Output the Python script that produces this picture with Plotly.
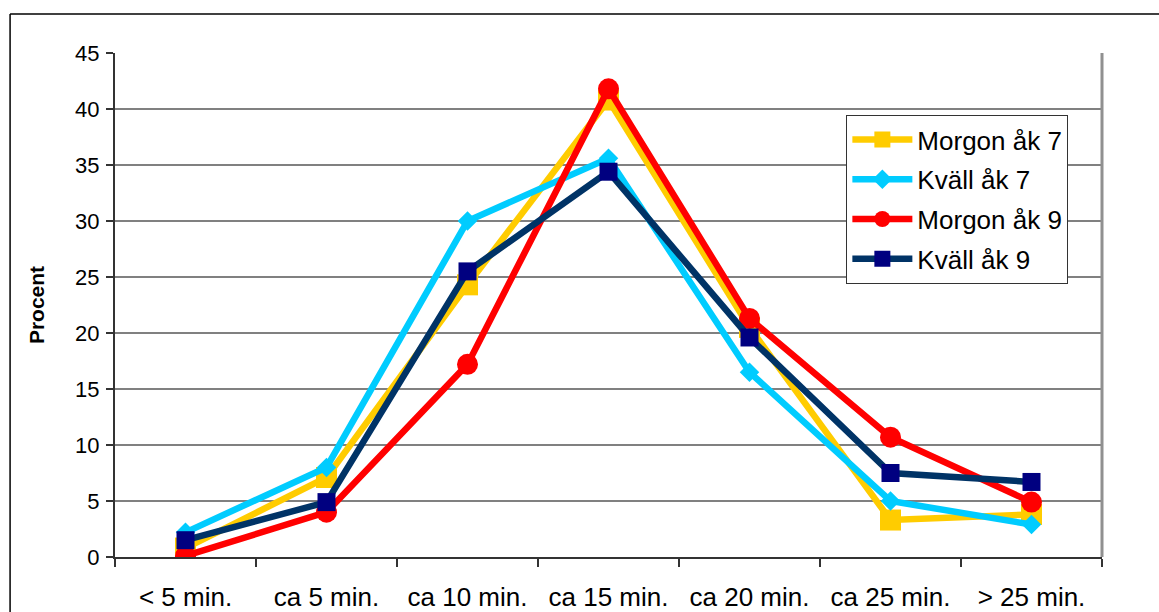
import plotly.graph_objects as go

categories = ["< 5 min.", "ca 5 min.", "ca 10 min.", "ca 15 min.", "ca 20 min.", "ca 25 min.", "> 25 min."]
morgon_ak7 = [0.8, 7.1, 24.3, 40.8, 20.5, 3.3, 3.8]
kvall_ak7 = [2.2, 8.0, 30.0, 35.6, 16.5, 5.0, 2.9]
morgon_ak9 = [0.1, 4.0, 17.2, 41.8, 21.3, 10.7, 4.9]
kvall_ak9 = [1.5, 4.9, 25.5, 34.4, 19.6, 7.5, 6.7]
y_ticks = [0, 5, 10, 15, 20, 25, 30, 35, 40, 45]

series = [
    ("Morgon åk 7", morgon_ak7, "#FFCC00", "#FFCC00", "square", 21),
    ("Kväll åk 7", kvall_ak7, "#00CCFF", "#00CCFF", "diamond", 15),
    ("Morgon åk 9", morgon_ak9, "#FF0000", "#FF0000", "circle", 21),
    ("Kväll åk 9", kvall_ak9, "#003366", "#000080", "square", 18),
]

fig = go.Figure()
for i, (name, vals, lc, mc, sym, sz) in enumerate(series):
    fig.add_trace(go.Scatter(
        x=categories, y=vals, name=name, mode="lines+markers",
        line=dict(color=lc, width=6.5),
        marker=dict(color=mc, symbol=sym, size=sz, line=dict(width=0)),
        legendgroup=f"g{i}",
    ))

font_family = "Liberation Sans, Arial, sans-serif"

fig.update_layout(
    width=1159, height=612,
    margin=dict(l=115, r=57, t=53, b=55),
    paper_bgcolor="white", plot_bgcolor="white",
    font=dict(family=font_family, color="black"),
    showlegend=True,
    legend=dict(
        x=0.741, y=0.877, xanchor="left", yanchor="top",
        bgcolor="white", bordercolor="#333333", borderwidth=1,
        font=dict(size=26, family=font_family, color="black"),
        traceorder="grouped", tracegroupgap=3, itemwidth=60,
    ),
    xaxis=dict(
        type="category", tickson="boundaries",
        ticks="outside", ticklen=8, tickwidth=1.5, tickcolor="#333333",
        showline=True, linecolor="#333333", linewidth=2,
        showgrid=False, zeroline=False, automargin=False,
        tickfont=dict(size=26, family=font_family, color="black"),
        ticklabelstandoff=16,
        range=[-0.5, 6.5],
    ),
    yaxis=dict(
        range=[0, 45], tickvals=y_ticks, automargin=False,
        ticks="outside", ticklen=7, tickwidth=1.5, tickcolor="#333333",
        showline=True, linecolor="#333333", linewidth=2,
        showgrid=True, gridcolor="#808080", gridwidth=1.5,
        zeroline=False,
        tickfont=dict(size=22, family=font_family, color="black"),
        ticklabelstandoff=2,
        title=dict(text="<b>Procent</b>", font=dict(size=21, family=font_family, color="black"), standoff=25),
    ),
    shapes=[
        dict(type="line", xref="paper", yref="paper", x0=1, x1=1, y0=0, y1=1,
             line=dict(color="#909090", width=3)),
        dict(type="line", xref="paper", yref="paper", x0=-0.1063, x1=1.1, y0=1.0774, y1=1.0774,
             line=dict(color="black", width=1.5)),
        dict(type="line", xref="paper", yref="paper", x0=-0.1063, x1=-0.1063, y0=-0.2, y1=1.0774,
             line=dict(color="black", width=1.5)),
    ],
)

fig.write_html("out.html")
